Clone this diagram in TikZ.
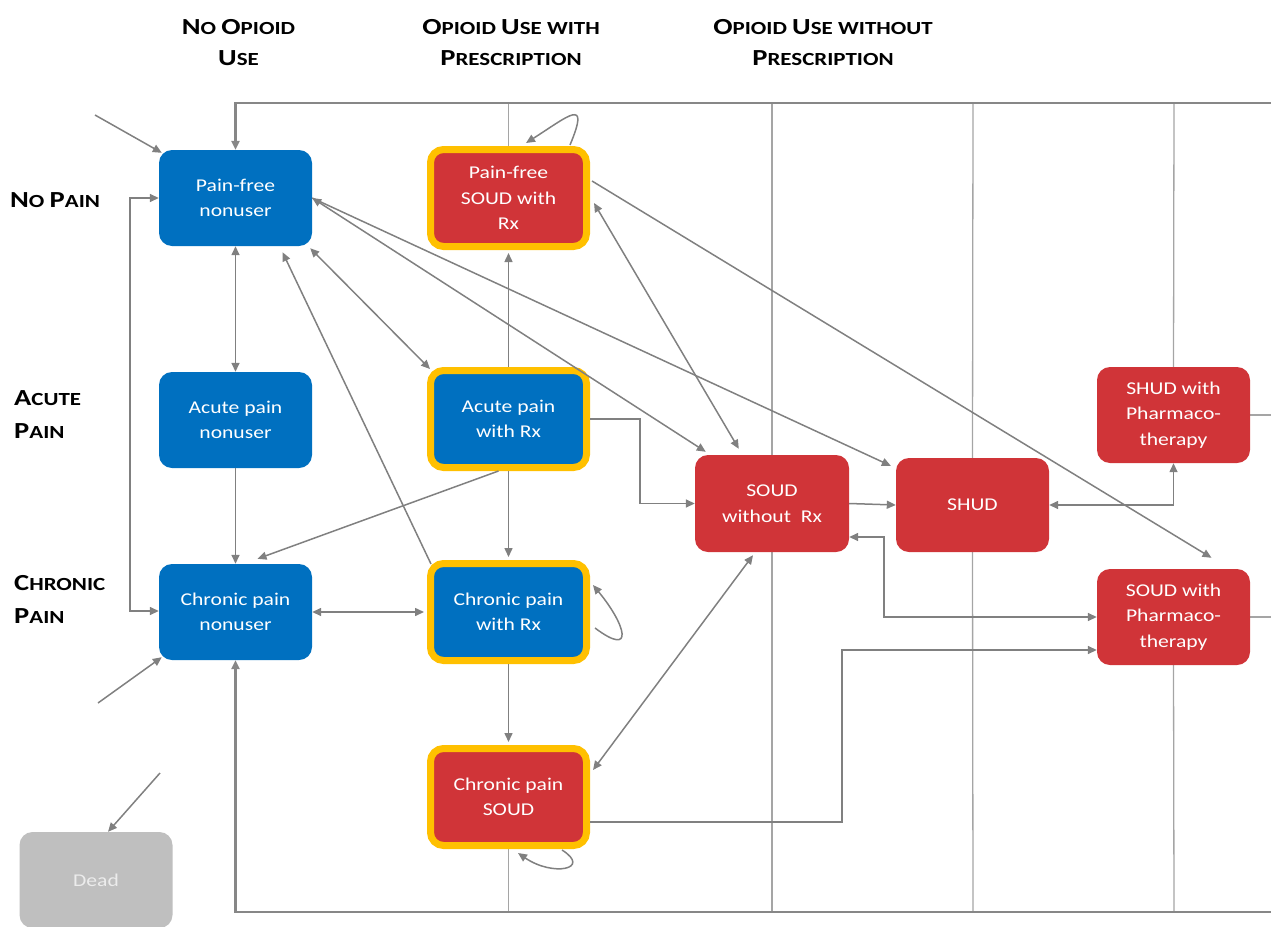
\documentclass[tikz,border=0pt]{standalone}
\usepackage{fontspec}
\setmainfont{Carlito}[FakeStretch=1.2]
\newfontfamily\hdrfont[FakeStretch=1.24]{Carlito}
\usetikzlibrary{arrows.meta,backgrounds,calc}
\definecolor{nblue}{RGB}{0,112,192}
\definecolor{nred}{RGB}{208,52,56}
\definecolor{nyel}{RGB}{255,192,0}
\definecolor{ngray}{RGB}{191,191,191}
\definecolor{ltxt}{RGB}{236,236,236}
\definecolor{cgray}{RGB}{128,128,128}
\definecolor{fgray}{RGB}{165,165,165}
\definecolor{tgray}{RGB}{135,135,135}
\newcommand\hB[1]{{\fontsize{23}{23}\selectfont #1}}
\begin{document}
\begin{tikzpicture}[x=1pt,y=-1pt,
  >={Triangle[length=9pt,width=8pt]},
  state/.style={rounded corners=13pt, minimum width=153pt, minimum height=96pt,
     text=white, align=center, font=\fontsize{18}{25.5}\selectfont, inner sep=2pt},
  bluest/.style={state, fill=nblue},
  redst/.style={state, fill=nred},
  rxst/.style={state, draw=nyel, line width=7pt, minimum width=156pt, minimum height=97pt},
  hdr/.style={font=\hdrfont\bfseries\fontsize{18.5}{20}\selectfont, inner sep=0pt, text=black},
  arr/.style={draw=cgray, line width=1.5pt, ->},
  darr/.style={draw=cgray, line width=1.5pt, <->},
  frame/.style={draw=fgray, line width=1.3pt},
  framethick/.style={draw=tgray, line width=2.4pt, ->}
]
\useasboundingbox (0,0) rectangle (1271,926);

% headers
\node[hdr, anchor=base] (h1a) at (238.5,34) {\hB{N}O \hB{O}PIOID};
\node[hdr, anchor=base] (h1b) at (238.5,65) {\hB{U}SE};
\node[hdr, anchor=base] (h2a) at (511,34) {\hB{O}PIOID \hB{U}SE WITH};
\node[hdr, anchor=base] (h2b) at (511,65) {\hB{P}RESCRIPTION};
\node[hdr, anchor=base] (h3a) at (823,34) {\hB{O}PIOID \hB{U}SE WITHOUT};
\node[hdr, anchor=base] (h3b) at (823,65) {\hB{P}RESCRIPTION};
% row labels
\node[hdr, anchor=base west] (r1) at (10,207) {\hB{N}O \hB{P}AIN};
\node[hdr, anchor=base west] (r2a) at (14,405) {\hB{A}CUTE};
\node[hdr, anchor=base west] (r2b) at (14,438) {\hB{P}AIN};
\node[hdr, anchor=base west] (r3a) at (14,590) {\hB{C}HRONIC};
\node[hdr, anchor=base west] (r3b) at (14,623) {\hB{P}AIN};

% states
\node[bluest] (pfn) at (235.5,198) {Pain-free\\nonuser};
\node[bluest] (apn) at (235.5,420) {Acute pain\\nonuser};
\node[bluest] (cpn) at (235.5,612) {Chronic pain\\nonuser};
\node[rxst, fill=nred] (pfs) at (508.5,198) {Pain-free\\SOUD with\\Rx};
\node[rxst, fill=nblue] (apr) at (508.5,419) {Acute pain\\with Rx};
\node[rxst, fill=nblue] (cpr) at (508.5,612) {Chronic pain\\with Rx};
\node[rxst, fill=nred] (cps) at (508.5,797) {Chronic pain\\SOUD};
\node[redst, minimum width=154pt, minimum height=97pt] (sor) at (772,503.5) {SOUD\\without~~Rx};
\node[redst, minimum height=94pt] (shud) at (972.5,505) {SHUD};
\node[redst] (shp) at (1173.5,415) {SHUD with\\Pharmaco-\\therapy};
\node[redst] (sop) at (1173.5,617) {SOUD with\\Pharmaco-\\therapy};
\node[state, fill=ngray, text=ltxt] (dead) at (96,880) {Dead};

% frame coordinates
\coordinate (ftl) at (235.5,103);
\coordinate (ftr) at (1271,103);
\coordinate (fbl) at (235.5,912);
\coordinate (fbr) at (1271,912);
\coordinate (f2t) at (508.5,103);
\coordinate (f2b) at (508.5,912);
\coordinate (f3t) at (772,103);
\coordinate (f3b) at (772,912);
\coordinate (f4t) at (973,103);
\coordinate (f4b) at (973,912);
\coordinate (f5t) at (1174,103);
\coordinate (f5b) at (1174,912);
\coordinate (er1) at (1271,415);
\coordinate (er2) at (1271,617);
\coordinate (in1) at (95,115);
\coordinate (in2) at (98,703);
\coordinate (out1) at (160,773);

\begin{scope}[on background layer]
\draw[frame] (f2t) -- (pfs.north);
\draw[frame] (cps.south) -- (f2b);
\draw[frame] (f3t) -- (sor.north);
\draw[frame] (sor.south) -- (f3b);
\draw[frame] (f4t) -- (shud.north);
\draw[frame] (shud.south) -- (f4b);
\draw[frame] (f5t) -- (shp.north);
\draw[frame] (sop.south) -- (f5b);
\draw[frame] (shp.east) -- (er1);
\draw[frame] (sop.east) -- (er2);
\end{scope}
\draw[framethick] (ftr) -- (ftl) -- (pfn.north);
\draw[framethick] (fbr) -- (fbl) -- (cpn.south);

% entry / exit
\draw[arr] (in1) -- ([shift={(3,3)}]pfn.north west);
\draw[arr] (in2) -- ([shift={(3,-3)}]cpn.south west);
\draw[arr] (out1) -- ([shift={(12,0)}]dead.north);

% transitions
\draw[darr] (pfn.west) -- ++(-29,0) |- ([shift={(0,-1)}]cpn.west);
\draw[darr] (pfn.south) -- (apn.north);
\draw[arr] (apn.south) -- (cpn.north);
\draw[darr] ([shift={(-2,2)}]pfn.south east) -- ([shift={(3,2)}]apr.north west);
\draw[darr] (pfn.east) -- ([shift={(11,-3)}]sor.north west);
\draw[arr] (pfn.east) -- ([shift={(-5,8)}]shud.north west);
\draw[darr] ([shift={(4,5)}]pfs.east) -- ([shift={(44,-6)}]sor.north west);
\draw[arr] ([shift={(2,-17)}]pfs.east) -- ([shift={(38,-11)}]sop.north);
\draw[arr, shorten >=3pt] (apr.north) -- (pfs.south);
\draw[arr] ([shift={(-10,0)}]apr.south) -- ([shift={(22,-5)}]cpn.north);
\draw[arr, shorten >=3pt] (apr.south) -- (cpr.north);
\draw[arr] (apr.east) -- ++(50,0) |- (sor.west);
\draw[darr, shorten >=3pt] (cpn.east) -- (cpr.west);
\draw[arr] ([shift={(4,4)}]cpr.north west) -- ([shift={(47,6)}]pfn.south);
\draw[arr, shorten >=3pt] (cpr.south) -- (cps.north);
\draw[arr] ([shift={(0,25)}]cps.east) -- ++(252,0) |- ([shift={(0,33)}]sop.west);
\draw[darr] ([shift={(3,25)}]cps.north east) -- ([shift={(-19,3)}]sor.south);
\draw[arr] (sor.east) -- (shud.west);
\draw[darr] (shud.east) -| (shp.south);
\draw[darr] (sop.west) -- ++(-213,0) |- ([shift={(0,33.5)}]sor.east);

% self loops
\draw[arr] ($(pfs.north)+(61.5,-1)$) .. controls ($(pfs.north)+(82,-50)$) and ($(pfs.north)+(60,-30)$) .. ($(pfs.north)+(17.5,-3)$);
\draw[arr] ($(cpr.east)+(5,16)$) .. controls ($(cpr.east)+(45,46)$) and ($(cpr.east)+(36,13)$) .. ($(cpr.east)+(3,-27)$);
\draw[arr] ($(cps.south)+(53.5,1)$) .. controls ($(cps.south)+(83.5,20)$) and ($(cps.south)+(44.5,28)$) .. ($(cps.south)+(9.5,4)$);
\end{tikzpicture}
\end{document}
